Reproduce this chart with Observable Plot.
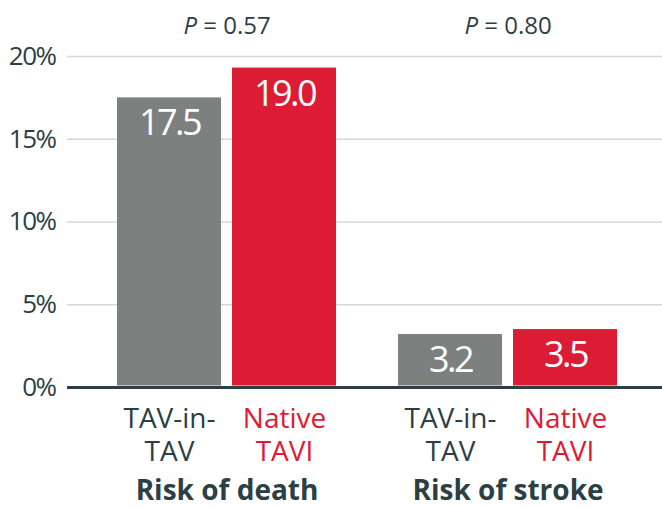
<!DOCTYPE html>
<html><head><meta charset="utf-8">
<script src="https://cdn.jsdelivr.net/npm/d3@7"></script>
<script src="https://cdn.jsdelivr.net/npm/@observablehq/plot@0.6"></script>
<style>
body{margin:0;background:#fff}
#chart{position:relative;width:662px;height:507px}
#chart svg{position:absolute;left:0;top:0}
</style>
</head><body><div id="chart"></div>
<script>
const groups = ["Risk of death", "Risk of stroke"];
const treatments = ["TAV-in-TAV", "Native TAVI"];
const treatmentLines = ["TAV-in-\nTAV", "Native\nTAVI"];
const deathValues = [17.5, 19.3];
const strokeValues = [3.2, 3.5];
const valueLabels = [["17.5", "19.0"], ["3.2", "3.5"]];
const pValues = ["0.57", "0.80"];
const yTicks = [0, 5, 10, 15, 20];
const barColors = ["#7c8180", "#dc1b34"];
const labelColors = ["#2c3f44", "#dc1b34"];
const dark = "#2c3f44";

const data = [];
[deathValues, strokeValues].forEach((vals, gi) => vals.forEach((v, ti) => data.push({
  group: groups[gi], treatment: treatments[ti], ti, value: v,
  label: valueLabels[gi][ti], line: treatmentLines[ti]
})));

const font = "'Open Sans', 'Noto Sans', sans-serif";
const common = {
  width: 662, height: 507,
  marginLeft: 67, marginRight: 0, marginTop: 56, marginBottom: 120,
  y: {domain: [0, 20], axis: null}
};

// Background layer: grid, baseline, y tick labels
const back = Plot.plot({
  ...common,
  style: {fontFamily: font, background: "#fff", overflow: "visible"},
  marks: [
    Plot.ruleY(yTicks.filter(d => d > 0), {stroke: "#d6d6d6", strokeWidth: 1.5}),
    Plot.ruleY([0], {stroke: dark, strokeWidth: 3}),
    Plot.text(yTicks, {y: d => d, frameAnchor: "left", textAnchor: "end", dx: -12, text: d => d + "%", fill: dark, fontSize: 26})
  ]
});

// Foreground layer: bars and labels, faceted by group
const front = Plot.plot({
  ...common,
  style: {fontFamily: font, background: "transparent", overflow: "visible"},
  x: {domain: treatments, paddingInner: 0.0957, paddingOuter: 0, axis: null},
  fx: {domain: groups, paddingInner: 0.2206, paddingOuter: 0.169, align: 0.526, axis: null},
  facet: {marginLeft: 0, marginRight: 0, marginTop: 0, marginBottom: 0},
  color: {type: "identity"},
  marks: [
    Plot.barY(data, {fx: "group", x: "treatment", y: "value", fill: d => barColors[d.ti], insetBottom: 1.5}),
    Plot.text(data, {fx: "group", x: "treatment", y: "value", text: "label", fill: "white", fontSize: 36, lineAnchor: "middle", dy: 26}),
    Plot.text(data, {fx: "group", x: "treatment", y: () => 0, text: "line", fill: d => labelColors[d.ti], fontSize: 28, lineHeight: 1.21, lineAnchor: "top", dy: 16}),
    Plot.text(groups, {fx: d => d, frameAnchor: "bottom", lineAnchor: "middle", text: d => d, fill: dark, fontWeight: "bold", fontSize: 28, dy: 104}),
    Plot.text(groups, {fx: d => d, frameAnchor: "top", lineAnchor: "middle", text: (d, i) => "P = " + pValues[i], fill: dark, fontSize: 24, dy: -30})
  ]
});

// Tighter figures, as in the reference's condensed numerals; italic P
for (const svg of [back, front]) {
  d3.select(svg).selectAll("text").each(function() {
    const t = this.textContent;
    const sel = d3.select(this);
    if (/^\d+(\.\d+)?%?$/.test(t)) {
      sel.attr("letter-spacing", t.endsWith("%") ? -1.5 : -2.5);
    } else if (t.startsWith("P = ")) {
      const rest = t.slice(1);
      sel.text("");
      sel.append("tspan").attr("font-style", "italic").text("P");
      sel.append("tspan").text(rest);
    }
  });
}

const holder = document.getElementById("chart");
holder.appendChild(back);
holder.appendChild(front);
</script>
</body></html>
